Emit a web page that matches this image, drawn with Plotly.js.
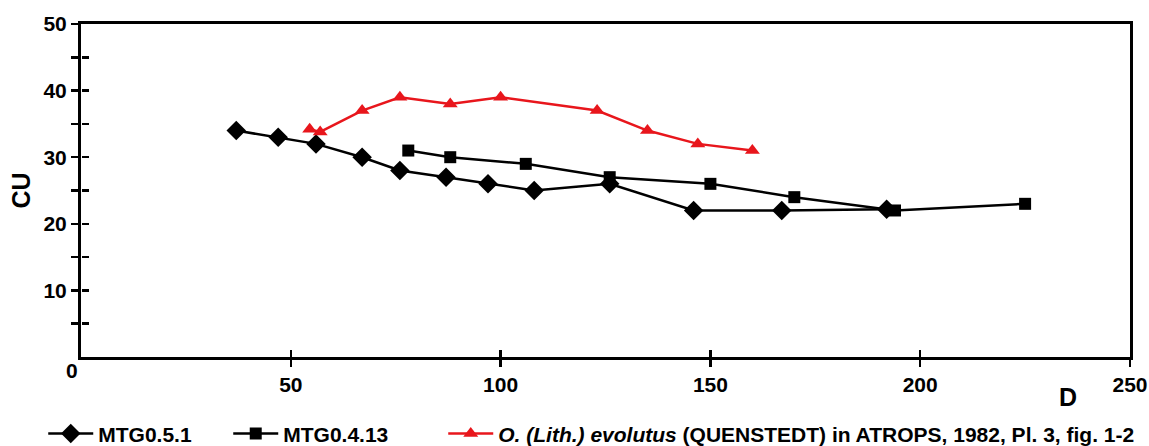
<!DOCTYPE html>
<html>
<head>
<meta charset="utf-8">
<script src="https://cdn.plot.ly/plotly-3.0.1.min.js"></script>
<style>html,body{margin:0;padding:0;background:#fff;}#chart{width:1149px;height:446px;}</style>
</head>
<body>
<div id="chart"></div>
<script>
// Data
var mtg051_D  = [37, 47, 56, 67, 76, 87, 97, 108, 126, 146, 167, 192];
var mtg051_CU = [34, 33, 32, 30, 28, 27, 26, 25, 26, 22, 22, 22.2];

var mtg0413_D  = [78, 88, 106, 126, 150, 170, 194, 225];
var mtg0413_CU = [31, 30, 29, 27, 26, 24, 22, 23];

var evol_D  = [54.5, 57, 67, 76, 88, 100, 123, 135, 147, 160];
var evol_CU = [34.2, 33.8, 37, 39, 38, 39, 37, 34, 32, 31];

var seriesNames = ['MTG0.5.1', 'MTG0.4.13',
  '<i>O. (Lith.) evolutus</i> (QUENSTEDT) in ATROPS, 1982, Pl. 3, fig. 1-2'];

var xTickVals = [50, 100, 150, 200, 250];
var xInnerTickVals = [50, 100, 150, 200];
var yTickVals = [5, 10, 15, 20, 25, 30, 35, 40, 45, 50];
var yTickText = ['', '10', '', '20', '', '30', '', '40', '', '50'];
var yInnerTickVals = [5, 10, 15, 20, 25, 30, 35, 40, 45];

var FONT = 'Liberation Sans, Arial, sans-serif';
var RED = 'rgb(232,22,28)';

var traces = [
  {x: mtg051_D, y: mtg051_CU, name: seriesNames[0], type: 'scatter', mode: 'lines+markers',
   line: {color: '#000', width: 2.5}, marker: {symbol: 'diamond', size: 15, color: '#000'},
   legendwidth: 125},
  {x: mtg0413_D, y: mtg0413_CU, name: seriesNames[1], type: 'scatter', mode: 'lines+markers',
   line: {color: '#000', width: 2.5}, marker: {symbol: 'square', size: 12, color: '#000'},
   legendwidth: 155},
  {x: evol_D, y: evol_CU, name: seriesNames[2], type: 'scatter', mode: 'lines+markers',
   line: {color: RED, width: 2.5}, marker: {symbol: 'triangle-up', size: 13, color: RED}},
  // placeholder (draws nothing) so the overlay axes carrying the inner tick halves exist
  {x: [null], y: [null], xaxis: 'x2', yaxis: 'y2', mode: 'markers', showlegend: false,
   hoverinfo: 'skip', type: 'scatter'}
];

var tickFont = {family: FONT, size: 21, color: '#000', weight: 'bold'};

var layout = {
  width: 1149, height: 446,
  margin: {l: 81, r: 19, t: 24, b: 89, autoexpand: false},
  paper_bgcolor: '#fff', plot_bgcolor: 'rgba(0,0,0,0)',
  showlegend: true,
  xaxis: {
    range: [0, 250], showgrid: false, zeroline: false,
    showline: true, linecolor: '#000', linewidth: 3, mirror: true,
    ticks: 'outside', ticklen: 7, tickwidth: 2.5, tickcolor: '#000',
    tickvals: xTickVals, tickfont: tickFont
  },
  yaxis: {
    range: [0, 50], showgrid: false, zeroline: false,
    showline: true, linecolor: '#000', linewidth: 3, mirror: true,
    ticks: 'outside', ticklen: 7, tickwidth: 2.5, tickcolor: '#000',
    tickvals: yTickVals, ticktext: yTickText, tickfont: tickFont,
    title: {text: 'CU', font: {family: FONT, size: 25, color: '#000', weight: 'bold'}, standoff: 6}
  },
  // overlay axes sitting on the bottom/left frame but facing the other way,
  // so their "outside" ticks point into the plot and complete the crossing ticks
  xaxis2: {
    overlaying: 'x', side: 'top', anchor: 'free', position: 0,
    range: [0, 250], showgrid: false, zeroline: false, showline: false,
    ticks: 'outside', ticklen: 7, tickwidth: 2.5, tickcolor: '#000',
    tickvals: xInnerTickVals, showticklabels: false
  },
  yaxis2: {
    overlaying: 'y', side: 'right', anchor: 'free', position: 0,
    range: [0, 50], showgrid: false, zeroline: false, showline: false,
    ticks: 'outside', ticklen: 7, tickwidth: 2.5, tickcolor: '#000',
    tickvals: yInnerTickVals, showticklabels: false
  },
  legend: {
    orientation: 'h', x: -0.036, xanchor: 'left', y: -0.231, yanchor: 'middle',
    itemwidth: 45, bgcolor: 'rgba(0,0,0,0)',
    font: {family: FONT, size: 21, color: '#000', weight: 'bold'}
  },
  annotations: [
    {text: '0', xref: 'paper', yref: 'paper', x: -0.0086, y: -0.042, showarrow: false,
     xanchor: 'center', yanchor: 'middle', font: tickFont},
    {text: 'D', xref: 'paper', yref: 'paper', x: 0.941, y: -0.12, showarrow: false,
     xanchor: 'center', yanchor: 'middle', font: {family: FONT, size: 25, color: '#000', weight: 'bold'}}
  ]
};

Plotly.newPlot('chart', traces, layout, {displayModeBar: false, staticPlot: true});
</script>
</body>
</html>
